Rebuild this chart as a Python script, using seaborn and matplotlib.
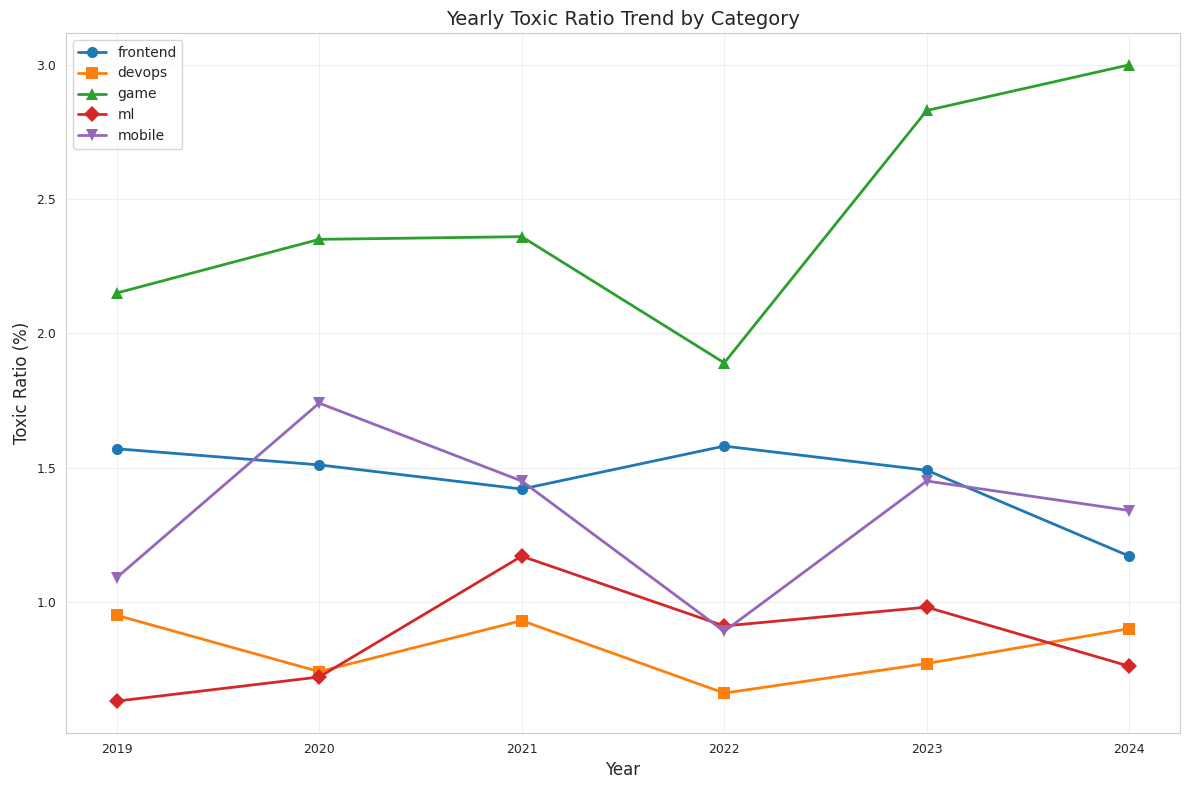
import pandas as pd
import seaborn as sns
import matplotlib.pyplot as plt

years = [2019, 2020, 2021, 2022, 2023, 2024]
categories = ['frontend', 'devops', 'game', 'ml', 'mobile']
frontend = [1.57, 1.51, 1.42, 1.58, 1.49, 1.17]
devops = [0.95, 0.74, 0.93, 0.66, 0.77, 0.90]
game = [2.15, 2.35, 2.36, 1.89, 2.83, 3.00]
ml = [0.63, 0.72, 1.17, 0.91, 0.98, 0.76]
mobile = [1.09, 1.74, 1.45, 0.89, 1.45, 1.34]

values = [frontend, devops, game, ml, mobile]
rows = []
for cat, vals in zip(categories, values):
    for y, v in zip(years, vals):
        rows.append({'Year': y, 'Toxic Ratio': v, 'Category': cat})
df = pd.DataFrame(rows)

sns.set_style('whitegrid')
fig, ax = plt.subplots(figsize=(11.89, 7.9), dpi=100)
sns.lineplot(data=df, x='Year', y='Toxic Ratio', hue='Category', style='Category',
             hue_order=categories, style_order=categories,
             markers=['o', 's', '^', 'D', 'v'], dashes=False,
             palette='tab10', linewidth=2, markersize=8, markeredgewidth=0, ax=ax)

ax.set_title('Yearly Toxic Ratio Trend by Category', fontsize=14)
ax.set_xlabel('Year', fontsize=12)
ax.set_ylabel('Toxic Ratio (%)', fontsize=12)
ax.set_xticks(years)
ax.set_yticks([1.0, 1.5, 2.0, 2.5, 3.0])
ax.tick_params(labelsize=9)
ax.grid(True, alpha=0.3)
ax.legend(loc='upper left', title=None, fontsize=10)

fig.subplots_adjust(left=0.0555, right=0.9924, top=0.9582, bottom=0.0722)
plt.savefig('out.png')
